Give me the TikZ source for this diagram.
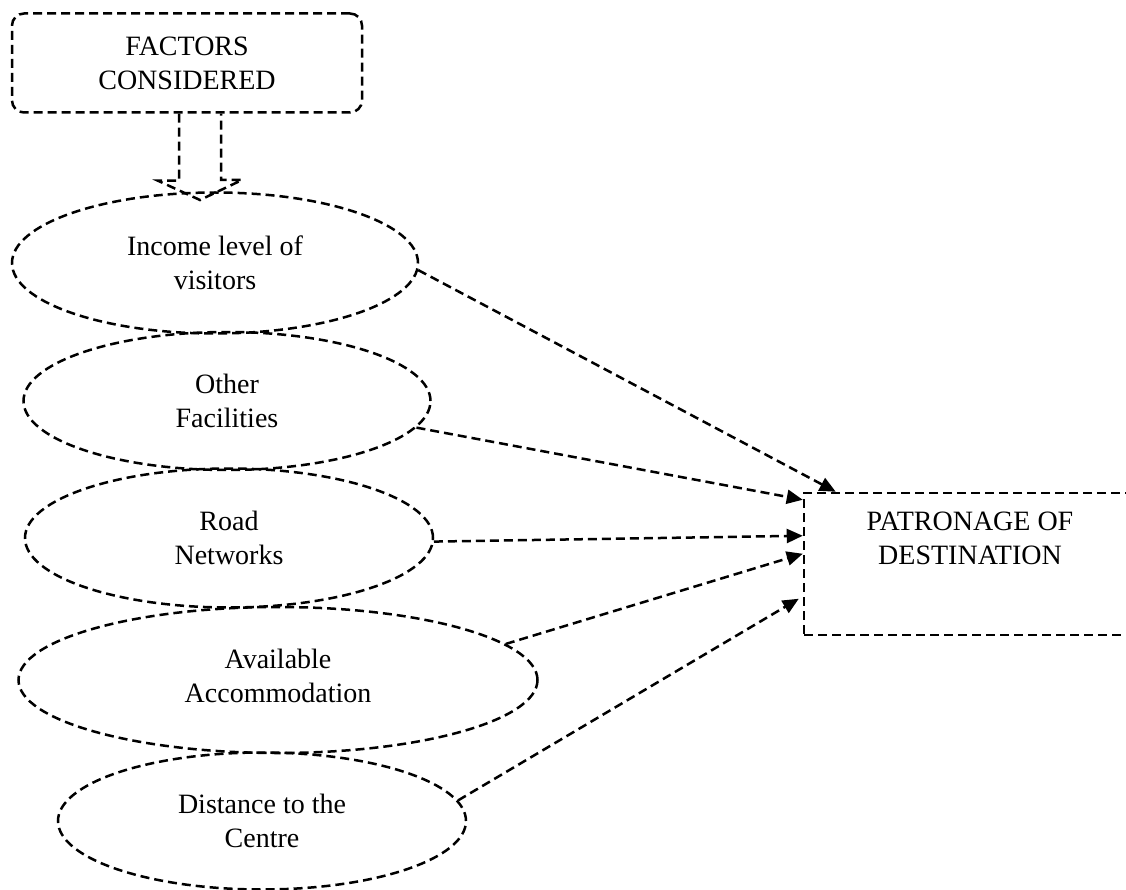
\documentclass[tikz,border=0pt]{standalone}
\usepackage{fontspec}
\setmainfont{Liberation Serif}
\usetikzlibrary{shapes.geometric, arrows.meta}

\begin{document}
\begin{tikzpicture}[x=1pt, y=-1pt,
    dsh/.style = {dashed, dash pattern=on 9pt off 5pt, line width=2.5pt},
    fbox/.style = {draw, dsh, rectangle, rounded corners=12pt, inner sep=0pt, align=center},
    oval/.style = {draw, dsh, ellipse, inner sep=0pt, align=center},
    pbox/.style = {draw, dsh, rectangle, inner sep=0pt},
    txt/.style = {inner sep=0pt, align=center},
    link/.style = {dsh, -{Triangle[length=16pt, width=14pt]}}]
    \clip (0,0) rectangle (1126,890);
    \fontsize{28}{34}\selectfont

    \node[fbox, minimum width=350pt, minimum height=99pt] (fc) at (187,63) {FACTORS\\CONSIDERED};

    \node[oval, minimum width=406pt, minimum height=141pt] (inc) at (215,263) {Income level of\\visitors};
    \node[oval, minimum width=407pt, minimum height=138pt] (oth) at (227,401) {Other\\Facilities};
    \node[oval, minimum width=408pt, minimum height=139pt] (road) at (229,538) {Road\\Networks};
    \node[oval, minimum width=519pt, minimum height=146pt] (acc) at (278,680) {\\[-22pt]Available\\Accommodation};
    \node[oval, minimum width=408pt, minimum height=137pt] (dist) at (262,821) {Distance to the\\Centre};

    \node[pbox, minimum width=360pt, minimum height=142pt] (pat) at (984,564) {};
    \node[txt, anchor=north] (pattxt) at (970,512) {PATRONAGE OF\\DESTINATION};

    % block arrow
    \coordinate (tip) at (200,200);
    \draw[dsh] ([xshift=-21pt]tip |- fc.south) -- ++(0,67) -- ++(-21,0) -- (tip)
        -- ++(42,-20) -- ++(-21,0) -- ([xshift=21pt]tip |- fc.south);

    \draw[link] (inc.-2) -- ([xshift=33pt]pat.north west);
    \draw[link] (oth.-8) -- ([yshift=-8pt]pat.north west);
    \draw[link] (road.-1) -- ([yshift=-44pt]pat.north west);
    \draw[link] (acc.9) -- ([yshift=-62pt]pat.north west);
    \draw[link] (dist.6) -- ([xshift=-4pt, yshift=-107pt]pat.north west);
\end{tikzpicture}
\end{document}
